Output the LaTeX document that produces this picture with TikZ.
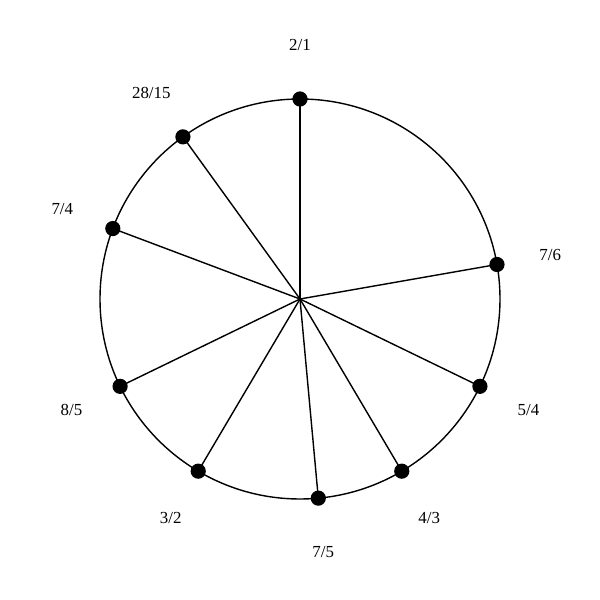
\documentclass[tikz,border=0pt]{standalone}
\usepackage{fontspec}
\setmainfont{Liberation Serif}
\usepackage{tikz}
\usetikzlibrary{calc}

\begin{document}
\begin{tikzpicture}[%
      x=0.025cm, y=0.025cm,
      dot/.style={circle, fill=black, inner sep=0pt, minimum size=0.38cm},
      ratio/.style={font=\fontsize{12}{14}\selectfont, inner sep=0pt},
      spoke/.style={line width=1pt}]

      \useasboundingbox (0,0) rectangle (600,600);
      \coordinate (o) at (300,301);
      \draw[line width=1pt] (o) circle (200);

      \foreach \name/\ang/\txt in {a/90/2\slash1, b/9.94/7\slash6, c/-25.89/5\slash4,
          d/-59.41/4\slash3, e/-84.75/7\slash5, f/-120.59/3\slash2,
          g/-154.10/8\slash5, h/159.37/7\slash4, i/125.83/28\slash15}
        {
          \draw[spoke] (o) -- ($(o)+(\ang:200)$) node[dot] (\name) {};
          \node[ratio] (l\name) at ($(o)+(\ang:254)$) {\txt};
        }

    \end{tikzpicture}
\end{document}
